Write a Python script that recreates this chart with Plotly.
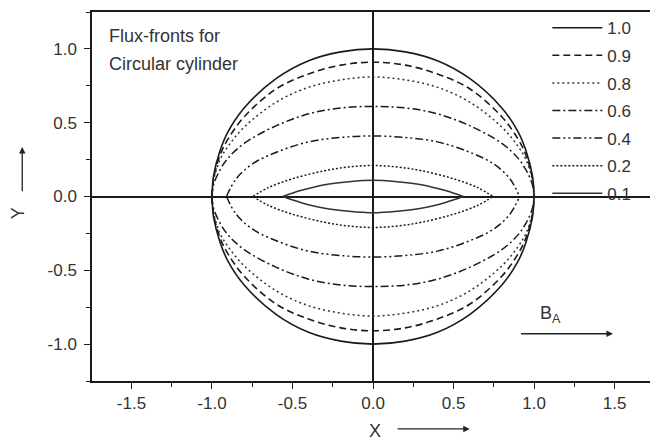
import plotly.graph_objects as go

# ---- data (upper halves; fronts are symmetric about y=0) ----
front_labels = ["1.0", "0.9", "0.8", "0.6", "0.4", "0.2", "0.1"]

x_outer = [-1.0, -0.99, -0.95, -0.9, -0.8, -0.6, -0.4, -0.2, 0.0,
           0.2, 0.4, 0.6, 0.8, 0.9, 0.95, 0.99, 1.0]
y_10 = [0.0, 0.14, 0.31, 0.44, 0.60, 0.80, 0.92, 0.98, 1.0,
        0.98, 0.92, 0.80, 0.60, 0.44, 0.31, 0.14, 0.0]
y_09 = [0.0, 0.12, 0.28, 0.39, 0.54, 0.73, 0.83, 0.89, 0.91,
        0.89, 0.83, 0.73, 0.54, 0.39, 0.28, 0.12, 0.0]
y_08 = [0.0, 0.11, 0.25, 0.34, 0.47, 0.64, 0.74, 0.79, 0.81,
        0.79, 0.74, 0.64, 0.47, 0.34, 0.25, 0.11, 0.0]
y_06 = [0.0, 0.08, 0.18, 0.26, 0.36, 0.48, 0.56, 0.60, 0.61,
        0.60, 0.56, 0.48, 0.36, 0.26, 0.18, 0.08, 0.0]

x_04 = [-0.91, -0.85, -0.75, -0.6, -0.4, -0.2, 0.0, 0.2, 0.4, 0.6, 0.75, 0.85, 0.91]
y_04 = [0.0, 0.12, 0.22, 0.30, 0.37, 0.40, 0.41, 0.40, 0.37, 0.30, 0.22, 0.12, 0.0]

x_02 = [-0.745, -0.65, -0.5, -0.3, -0.15, 0.0, 0.15, 0.3, 0.5, 0.65, 0.745]
y_02 = [0.0, 0.06, 0.12, 0.175, 0.20, 0.21, 0.20, 0.175, 0.12, 0.06, 0.0]

x_01 = [-0.56, -0.45, -0.3, -0.15, 0.0, 0.15, 0.3, 0.45, 0.56]
y_01 = [0.0, 0.04, 0.08, 0.10, 0.11, 0.10, 0.08, 0.04, 0.0]

x_ticks = [-1.5, -1.0, -0.5, 0.0, 0.5, 1.0, 1.5]
y_ticks = [-1.0, -0.5, 0.0, 0.5, 1.0]

curves = [
    (x_outer, y_10, dict(color="#1a1a1a", width=1.6, dash="solid")),
    (x_outer, y_09, dict(color="#1a1a1a", width=1.6, dash="7px,4px")),
    (x_outer, y_08, dict(color="#333333", width=1.5, dash="2px,3px")),
    (x_outer, y_06, dict(color="#1a1a1a", width=1.5, dash="8px,3px,2px,3px")),
    (x_04, y_04, dict(color="#1a1a1a", width=1.5, dash="8px,3px,2px,3px,2px,3px")),
    (x_02, y_02, dict(color="#1a1a1a", width=1.5, dash="2px,2px")),
    (x_01, y_01, dict(color="#333333", width=1.6, dash="solid")),
]

fig = go.Figure()
for label, (xs, ys, ln) in zip(front_labels, curves):
    fig.add_trace(go.Scatter(x=xs, y=ys, mode="lines", name=label, line=dict(shape="spline", **ln),
                             legendgroup=label, showlegend=True, hoverinfo="skip"))
    fig.add_trace(go.Scatter(x=xs, y=[-v for v in ys], mode="lines", name=label,
                             line=dict(shape="spline", **ln),
                             legendgroup=label, showlegend=False, hoverinfo="skip"))

FAM = "Liberation Sans, Arial, sans-serif"
tick_font = dict(family=FAM, size=17, color="#333333")

fig.update_layout(
    width=650, height=441,
    margin=dict(l=92, r=0, t=12, b=60),
    paper_bgcolor="white", plot_bgcolor="white",
    font=dict(family=FAM, color="#222222"),
    showlegend=True,
    legend=dict(x=0.816, y=1.005, xanchor="left", yanchor="top", font=dict(size=17, color="#333333"),
                bgcolor="rgba(0,0,0,0)", tracegroupgap=2.5, itemwidth=50),
    xaxis=dict(range=[-1.745, 1.72], tickvals=x_ticks, ticktext=[f"{v:.1f}" for v in x_ticks],
               showgrid=False, zeroline=True, zerolinecolor="#1a1a1a", zerolinewidth=1.5,
               showline=True, linecolor="#1a1a1a", linewidth=1.5, mirror=True,
               ticks="outside", ticklen=6, tickwidth=1.2, tickcolor="#1a1a1a",
               minor=dict(dtick=0.25, tick0=0, ticks="outside", ticklen=4, tickwidth=1, tickcolor="#1a1a1a"),
               tickfont=tick_font),
    yaxis=dict(range=[-1.25, 1.25], tickvals=y_ticks, ticktext=[f"{v:.1f}" for v in y_ticks],
               showgrid=False, zeroline=True, zerolinecolor="#1a1a1a", zerolinewidth=1.5,
               showline=True, linecolor="#1a1a1a", linewidth=1.5, mirror=False,
               ticks="outside", ticklen=6, tickwidth=1.2, tickcolor="#1a1a1a", ticklabelstandoff=4,
               minor=dict(dtick=0.25, tick0=0, ticks="outside", ticklen=4, tickwidth=1, tickcolor="#1a1a1a"),
               tickfont=tick_font),
)

ann_font = dict(family=FAM, size=18, color="#333333")
XD, YD = "x domain", "y domain"
# title text inside plot (two lines)
fig.add_annotation(x=0.027, y=0.934, xref=XD, yref=YD, xanchor="left", yanchor="middle",
                   text="Flux-fronts for", showarrow=False, font=ann_font)
fig.add_annotation(x=0.027, y=0.858, xref=XD, yref=YD, xanchor="left", yanchor="middle",
                   text="Circular cylinder", showarrow=False, font=ann_font)
# B_A label + arrow
fig.add_annotation(x=1.10, y=-0.8, xref="x", yref="y", text="B<sub>A</sub>", showarrow=False,
                   font=ann_font)
fig.add_annotation(x=1.49, y=-0.93, xref="x", yref="y", ax=0.91, ay=-0.93, axref="x", ayref="y",
                   text="", showarrow=True, arrowhead=2, arrowsize=1, arrowwidth=1.3, arrowcolor="#222222")
# X axis label + arrow
fig.add_annotation(x=0.508, y=-0.168, xref=XD, yref=YD, text="X", showarrow=False,
                   font=ann_font)
fig.add_annotation(x=0.677, y=-0.13, xref=XD, yref=YD, ax=0.545, ay=-0.13,
                   axref=XD, ayref=YD, text="", showarrow=True, arrowhead=2,
                   arrowsize=1, arrowwidth=1.3, arrowcolor="#222222")
# Y axis label + arrow
fig.add_annotation(x=-0.154, y=0.455, xref=XD, yref=YD, text="Y", showarrow=False,
                   textangle=-90, font=ann_font)
fig.add_annotation(x=-0.125, y=0.634, xref=XD, yref=YD, ax=-0.125, ay=0.51,
                   axref=XD, ayref=YD, text="", showarrow=True, arrowhead=2,
                   arrowsize=1, arrowwidth=1.3, arrowcolor="#222222")

fig.write_html("out.html")
